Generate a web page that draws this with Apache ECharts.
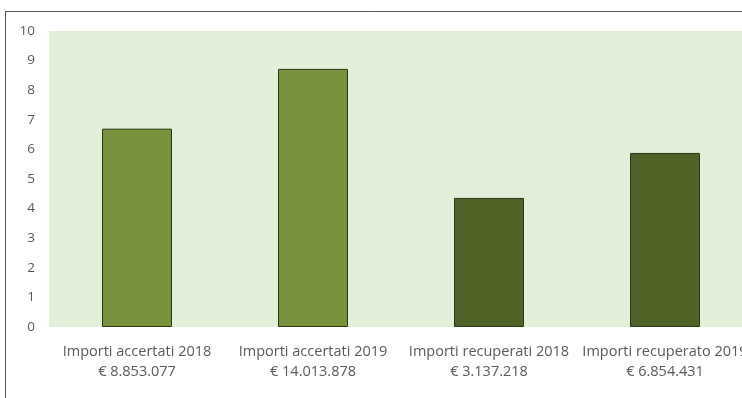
<!DOCTYPE html>
<html><head><meta charset="utf-8">
<script src="https://cdn.jsdelivr.net/npm/echarts@6/dist/echarts.min.js"></script>
<style>html,body{margin:0;padding:0;background:#fff}#c{width:742px;height:398px}</style>
</head><body><div id="c"></div>
<script>
const categories = ["Importi accertati 2018\n€ 8.853.077","Importi accertati 2019\n€ 14.013.878","Importi recuperati 2018\n€ 3.137.218","Importi recuperato 2019\n€ 6.854.431"];
const values = [6.7, 8.72, 4.36, 5.88];
const barColors = ["#77933C","#77933C","#4F6228","#4F6228"];
const yTicks = [0,1,2,3,4,5,6,7,8,9,10];

const chart = echarts.init(document.getElementById('c'));
chart.setOption({
  animation:false,
  grid:{left:49, top:31, width:704, height:296, show:true, backgroundColor:'#E3F0D9', borderWidth:0, outerBoundsMode:'none', containLabel:false},
  xAxis:{type:'category', data:categories, axisLine:{show:false}, axisTick:{show:false},
    axisLabel:{color:'#595959', fontFamily:'Open Sans', fontSize:14.5, lineHeight:20, margin:15, interval:0, hideOverlap:false}},
  yAxis:{type:'value', min:0, max:10, interval:1, axisLine:{show:false}, axisTick:{show:false}, splitLine:{show:false},
    axisLabel:{color:'#595959', fontFamily:'Open Sans', fontSize:13.5, margin:14}},
  series:[{type:'bar', barWidth:70,
    data: values.map((v,i)=>({value:v, itemStyle:{color:barColors[i]}})),
    itemStyle:{borderColor:'#2c3616', borderWidth:1}}],
  graphic:[
    {type:'line', shape:{x1:5,y1:11.5,x2:742,y2:11.5}, style:{stroke:'#555',lineWidth:1}},
    {type:'line', shape:{x1:5.5,y1:11,x2:5.5,y2:398}, style:{stroke:'#555',lineWidth:1}}
  ]
});
</script></body></html>
